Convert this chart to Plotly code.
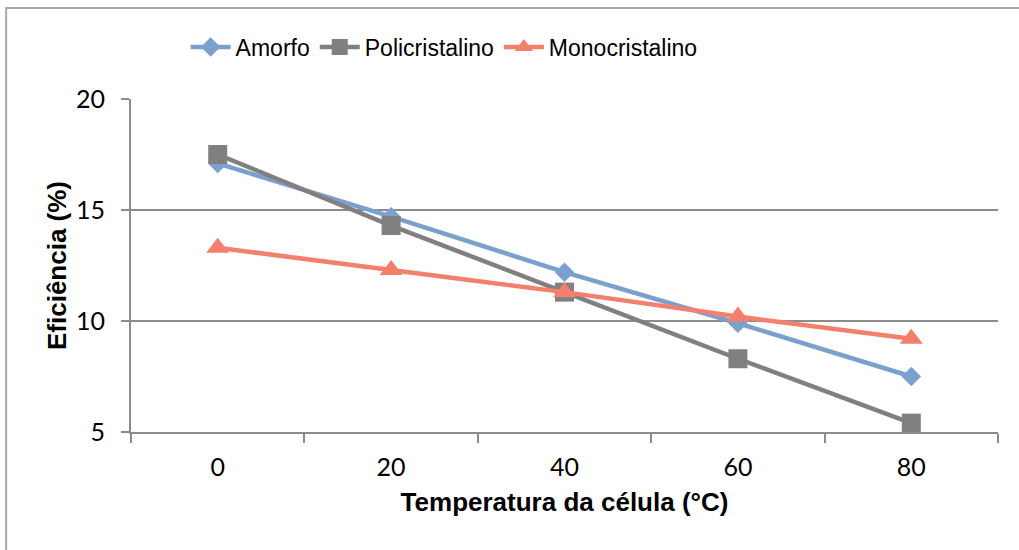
import plotly.graph_objects as go

temperaturas = [0, 20, 40, 60, 80]
amorfo = [17.1, 14.7, 12.2, 9.9, 7.5]
policristalino = [17.5, 14.3, 11.3, 8.3, 5.4]
monocristalino = [13.3, 12.3, 11.3, 10.2, 9.2]
y_ticks = [5, 10, 15, 20]

fig = go.Figure()
fig.add_trace(go.Scatter(x=temperaturas, y=amorfo, name="Amorfo", mode="lines+markers",
                         line=dict(color="#7BA0CD", width=4.5),
                         marker=dict(symbol="diamond", size=15, color="#7BA0CD")))
fig.add_trace(go.Scatter(x=temperaturas, y=policristalino, name="Policristalino", mode="lines+markers",
                         line=dict(color="#808080", width=4.5),
                         marker=dict(symbol="square", size=19, color="#808080")))
fig.add_trace(go.Scatter(x=temperaturas, y=monocristalino, name="Monocristalino", mode="lines+markers",
                         line=dict(color="#F47F6C", width=4.5),
                         marker=dict(symbol="triangle-up", size=20, color="#F47F6C")))

fig.update_layout(
    width=1019, height=550,
    margin=dict(l=131, r=21, t=99, b=118),
    paper_bgcolor="white", plot_bgcolor="white",
    showlegend=True,
    legend=dict(orientation="h", x=0.063, xanchor="left", y=1.156, yanchor="middle",
                font=dict(family="Liberation Sans", size=23, color="black"),
                bgcolor="rgba(0,0,0,0)", itemwidth=40, tracegroupgap=0),
    xaxis=dict(range=[-10, 90], tickvals=temperaturas, ticktext=[str(t) for t in temperaturas],
               ticks="", showgrid=False, zeroline=False,
               showline=True, linecolor="#8C8C8C", linewidth=2,
               ticklabelstandoff=12,
               tickfont=dict(family="Lato", size=25, color="black"),
               minor=dict(ticks="outside", tick0=-10, dtick=20, ticklen=9,
                          tickcolor="#8C8C8C", tickwidth=2, showgrid=False),
               title=dict(text="<b>Temperatura da célula (°C)</b>", standoff=13,
                          font=dict(family="Liberation Sans", size=26, color="black"))),
    yaxis=dict(range=[5, 20], tickvals=y_ticks, ticks="outside", ticklen=8,
               tickcolor="#8C8C8C", tickwidth=2, ticklabelstandoff=11,
               showgrid=True, gridcolor="#8C8C8C", gridwidth=1.5, zeroline=False,
               showline=True, linecolor="#8C8C8C", linewidth=2,
               tickfont=dict(family="Lato", size=25, color="black"),
               title=dict(text="<b>Eficiência (%)</b>", standoff=2,
                          font=dict(family="Liberation Sans", size=26, color="black"))),
)

fig.add_shape(type="rect", xref="paper", yref="paper",
              x0=-0.144, x1=1.2, y0=-0.5, y1=1.273,
              line=dict(color="#AAAAAA", width=2), layer="below")

fig.write_html("out.html")
